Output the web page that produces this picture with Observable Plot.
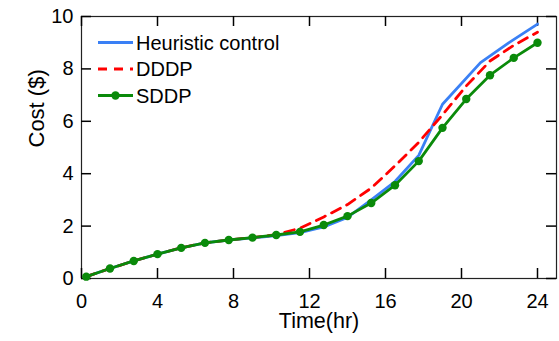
<!DOCTYPE html>
<html>
<head>
<meta charset="utf-8">
<script src="https://cdn.jsdelivr.net/npm/d3@7"></script>
<script src="https://cdn.jsdelivr.net/npm/@observablehq/plot@0.6"></script>
<style>
  html, body { margin: 0; padding: 0; background: #fff; }
  #chart { width: 559px; height: 341px; }
  svg { font-family: "Liberation Sans", Arial, sans-serif; }
</style>
</head>
<body>
<div id="chart"></div>
<script>
// ---- data ----
const seriesNames = ["Heuristic control", "DDDP", "SDDP"];
const time = [0.25, 1.5, 2.75, 4, 5.25, 6.5, 7.75, 9, 10.25, 11.5, 12.75, 14, 15.25, 16.5, 17.75, 19, 20.25, 21.5, 22.75, 24];
const sddp = [0.07, 0.38, 0.67, 0.93, 1.17, 1.36, 1.47, 1.56, 1.66, 1.78, 2.04, 2.38, 2.88, 3.56, 4.48, 5.75, 6.85, 7.76, 8.42, 9.0];
const dddp = [0.07, 0.38, 0.67, 0.93, 1.17, 1.36, 1.47, 1.56, 1.67, 1.92, 2.35, 2.82, 3.45, 4.3, 5.2, 6.25, 7.35, 8.3, 8.9, 9.4];
const heurTime = [0.25, 1.5, 2.75, 4, 5.25, 6.5, 7.75, 9, 10.25, 11.5, 12.75, 14, 15.25, 16.5, 17.75, 19, 21, 22.5, 24];
const heur = [0.07, 0.38, 0.67, 0.93, 1.17, 1.36, 1.47, 1.55, 1.64, 1.75, 1.97, 2.33, 3.0, 3.7, 4.7, 6.65, 8.24, 9.0, 9.71];
const xTicks = [0, 4, 8, 12, 16, 20, 24];
const yTicks = [0, 2, 4, 6, 8, 10];
const xLabel = "Time(hr)";
const yLabel = "Cost ($)";

const colors = {"Heuristic control": "#3a80f5", "DDDP": "#ff0000", "SDDP": "#0a8a0a"};

const heurData = heurTime.map((t, i) => ({t, v: heur[i]}));
const dddpData = time.map((t, i) => ({t, v: dddp[i]}));
const sddpData = time.map((t, i) => ({t, v: sddp[i]}));

const W = 559, H = 341;
const ML = 81, MR = 3, MT = 16, MB = 63;
const FW = W - ML - MR, FH = H - MT - MB;
const FONT = 20;
const TICK = 10;
const axisColor = "#000";
const xMax = 25, yMax = 10;
const tx = TICK / FW * xMax;   // tick length in x units
const ty = TICK / FH * yMax;   // tick length in y units

function legendMark(index, scales, values, dimensions) {
  const g = d3.create("svg:g").attr("text-anchor", "start");
  const x0 = dimensions.marginLeft + 17, x1 = x0 + 35, tx = x1 + 3;
  const y0 = dimensions.marginTop + 26.5, dy = 26.5;
  seriesNames.forEach((name, i) => {
    const y = y0 + i * dy;
    const line = g.append("line").attr("x1", x0).attr("x2", x1).attr("y1", y).attr("y2", y)
      .attr("stroke", colors[name]).attr("stroke-width", 2.8);
    if (name === "DDDP") line.attr("stroke-dasharray", "9,7");
    if (name === "SDDP") g.append("circle").attr("cx", (x0 + x1) / 2).attr("cy", y).attr("r", 4.2).attr("fill", colors[name]);
    g.append("text").attr("x", tx).attr("y", y).attr("dy", "0.36em")
      .attr("font-size", FONT).attr("fill", "#000").text(name);
  });
  return g.node();
}

const chart = Plot.plot({
  width: W,
  height: H,
  marginLeft: ML,
  marginRight: MR,
  marginTop: MT,
  marginBottom: MB,
  style: {fontFamily: "'Liberation Sans', Arial, sans-serif", fontSize: FONT + "px", color: "#000", background: "#fff"},
  x: {domain: [0, xMax]},
  y: {domain: [0, yMax]},
  marks: [
    Plot.frame({stroke: "#222", strokeWidth: 1.2}),
    // inward ticks on all four sides
    Plot.ruleX(xTicks, {x: d => d, y1: 0, y2: ty, stroke: axisColor, strokeWidth: 1.5}),
    Plot.ruleX(xTicks, {x: d => d, y1: yMax - ty, y2: yMax, stroke: axisColor, strokeWidth: 1.5}),
    Plot.ruleY(yTicks, {y: d => d, x1: 0, x2: tx, stroke: axisColor, strokeWidth: 1.5}),
    Plot.ruleY(yTicks, {y: d => d, x1: xMax - tx, x2: xMax, stroke: axisColor, strokeWidth: 1.5}),
    // tick labels
    Plot.axisX({anchor: "bottom", ticks: xTicks, tickSize: 0, tickPadding: 15, fontSize: FONT, label: null, fill: "#000"}),
    Plot.axisY({anchor: "left", ticks: yTicks, tickSize: 0, tickPadding: 8, fontSize: FONT, label: null, fill: "#000"}),
    Plot.line(heurData, {x: "t", y: "v", stroke: colors["Heuristic control"], strokeWidth: 2.8}),
    Plot.line(dddpData, {x: "t", y: "v", stroke: colors["DDDP"], strokeWidth: 2.8, strokeDasharray: "10,7"}),
    Plot.line(sddpData, {x: "t", y: "v", stroke: colors["SDDP"], strokeWidth: 2.8}),
    Plot.dot(sddpData, {x: "t", y: "v", r: 4.2, fill: colors["SDDP"], stroke: "none"}),
    Plot.text([xLabel], {text: d => d, frameAnchor: "bottom", dy: 49, fontSize: 21.5, fill: "#000"}),
    Plot.text([yLabel], {text: d => d, frameAnchor: "left", dx: -45, rotate: -90, fontSize: 22, fill: "#000"}),
    legendMark
  ]
});
document.getElementById("chart").appendChild(chart);
</script>
</body>
</html>
